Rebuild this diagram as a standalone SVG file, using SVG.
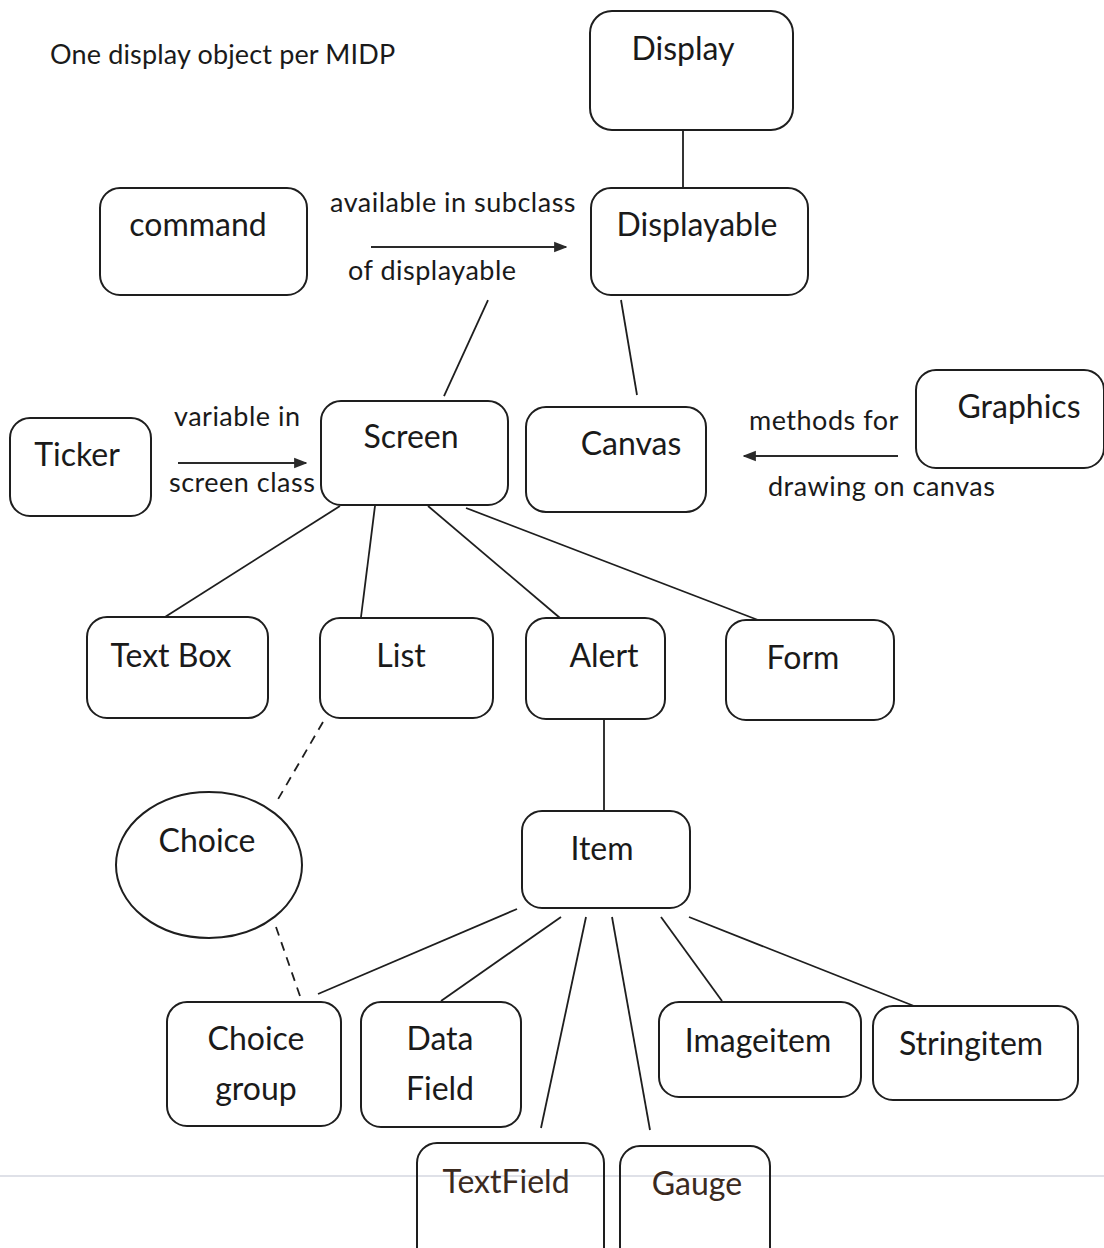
<svg xmlns="http://www.w3.org/2000/svg" width="1104" height="1248" viewBox="0 0 1104 1248">
  <style>
    .box { fill: none; stroke: #1e1e1e; stroke-width: 2; }
    .lbl { font-family: Lato, "Open Sans", "Liberation Sans", sans-serif; font-size: 32px; fill: #1a1a1a; text-anchor: middle; }
    .note { font-family: Lato, "Open Sans", "Liberation Sans", sans-serif; font-size: 27px; letter-spacing: 0.5px; fill: #1a1a1a; }
    .title { letter-spacing: 0.15px; }
    .warm { fill: #3b2a1e; }
    .edge { stroke: #1e1e1e; stroke-width: 1.8; fill: none; }
    .dash { stroke: #1e1e1e; stroke-width: 1.8; fill: none; stroke-dasharray: 9 7; }
    .arrow { stroke: #2a2a2a; stroke-width: 2.2; fill: none; marker-end: url(#head); }
  </style>
  <defs>
    <marker id="head" viewBox="0 0 10 10" refX="9" refY="5" markerWidth="6" markerHeight="6" orient="auto">
      <path d="M0,1 L10,5 L0,9 z" fill="#2a2a2a"/>
    </marker>
  </defs>

  <rect width="1104" height="1248" fill="#ffffff"/>
  <!-- faint ruled line across the page -->
  <line x1="0" y1="1176" x2="1104" y2="1176" stroke="#dfe1e8" stroke-width="2"/>

  <text class="note title" x="50" y="64">One display object per MIDP</text>

  <g id="connectors">
    <line class="edge" x1="683" y1="130" x2="683" y2="188"/>
    <line class="edge" x1="488" y1="300" x2="444" y2="396"/>
    <line class="edge" x1="621" y1="300" x2="637" y2="395"/>
    <line class="arrow" x1="371" y1="247" x2="566" y2="247"/>
    <line class="arrow" x1="178" y1="463" x2="306" y2="463"/>
    <line class="arrow" x1="898" y1="456" x2="744" y2="456"/>
    <line class="edge" x1="340" y1="506" x2="165" y2="617"/>
    <line class="edge" x1="375" y1="506" x2="361" y2="617"/>
    <line class="edge" x1="428" y1="506" x2="560" y2="618"/>
    <line class="edge" x1="466" y1="508" x2="758" y2="620"/>
    <line class="edge" x1="604" y1="719" x2="604" y2="811"/>
    <line class="dash" x1="323" y1="722" x2="277" y2="801"/>
    <line class="dash" x1="276" y1="927" x2="300" y2="996"/>
    <line class="edge" x1="517" y1="909" x2="318" y2="994"/>
    <line class="edge" x1="561" y1="917" x2="441" y2="1001"/>
    <line class="edge" x1="586" y1="917" x2="541" y2="1128"/>
    <line class="edge" x1="612" y1="917" x2="650" y2="1130"/>
    <line class="edge" x1="661" y1="917" x2="722" y2="1001"/>
    <line class="edge" x1="689" y1="917" x2="914" y2="1006"/>
  </g>

  <g id="display">
    <rect class="box" x="590" y="11" width="203" height="119" rx="22"/>
    <text class="lbl" x="683" y="60">Display</text>
  </g>
  <g id="displayable">
    <rect class="box" x="591" y="188" width="217" height="107" rx="20"/>
    <text class="lbl" x="697" y="236">Displayable</text>
  </g>
  <g id="command">
    <rect class="box" x="100" y="188" width="207" height="107" rx="20"/>
    <text class="lbl" x="198" y="236">command</text>
  </g>
  <g id="label-available">
    <text class="note" x="330" y="212">available in subclass</text>
    <text class="note" x="348" y="280">of displayable</text>
  </g>
  <g id="screen">
    <rect class="box" x="321" y="401" width="187" height="104" rx="20"/>
    <text class="lbl" x="411" y="448">Screen</text>
  </g>
  <g id="canvas">
    <rect class="box" x="526" y="407" width="180" height="105" rx="20"/>
    <text class="lbl" x="631" y="455">Canvas</text>
  </g>
  <g id="graphics">
    <rect class="box" x="916" y="370" width="188" height="98" rx="20"/>
    <text class="lbl" x="1019" y="418">Graphics</text>
  </g>
  <g id="label-methods">
    <text class="note" x="749" y="430">methods for</text>
    <text class="note" x="768" y="496">drawing on canvas</text>
  </g>
  <g id="ticker">
    <rect class="box" x="10" y="418" width="141" height="98" rx="20"/>
    <text class="lbl" x="77" y="466">Ticker</text>
  </g>
  <g id="label-variable">
    <text class="note" x="174" y="426">variable in</text>
    <text class="note" x="169" y="492">screen class</text>
  </g>
  <g id="textbox">
    <rect class="box" x="87" y="617" width="181" height="101" rx="20"/>
    <text class="lbl" x="171" y="667">Text Box</text>
  </g>
  <g id="list">
    <rect class="box" x="320" y="618" width="173" height="100" rx="20"/>
    <text class="lbl" x="401" y="667">List</text>
  </g>
  <g id="alert">
    <rect class="box" x="526" y="618" width="139" height="101" rx="20"/>
    <text class="lbl" x="604" y="667">Alert</text>
  </g>
  <g id="form">
    <rect class="box" x="726" y="620" width="168" height="100" rx="20"/>
    <text class="lbl" x="803" y="669">Form</text>
  </g>
  <g id="choice">
    <ellipse class="box" cx="209" cy="865" rx="93" ry="73"/>
    <text class="lbl" x="207" y="852">Choice</text>
  </g>
  <g id="item">
    <rect class="box" x="522" y="811" width="168" height="97" rx="20"/>
    <text class="lbl" x="602" y="860">Item</text>
  </g>
  <g id="choicegroup">
    <rect class="box" x="167" y="1002" width="174" height="124" rx="20"/>
    <text class="lbl" x="256" y="1050">Choice</text>
    <text class="lbl" x="256" y="1100">group</text>
  </g>
  <g id="datafield">
    <rect class="box" x="361" y="1002" width="160" height="125" rx="20"/>
    <text class="lbl" x="440" y="1050">Data</text>
    <text class="lbl" x="440" y="1100">Field</text>
  </g>
  <g id="imageitem">
    <rect class="box" x="659" y="1002" width="202" height="95" rx="20"/>
    <text class="lbl" x="758" y="1052">Imageitem</text>
  </g>
  <g id="stringitem">
    <rect class="box" x="873" y="1006" width="205" height="94" rx="20"/>
    <text class="lbl" x="971" y="1055">Stringitem</text>
  </g>
  <g id="textfield">
    <rect class="box" x="417" y="1143" width="187" height="125" rx="20"/>
    <text class="lbl warm" x="506" y="1193">TextField</text>
  </g>
  <g id="gauge">
    <rect class="box" x="620" y="1146" width="150" height="122" rx="20"/>
    <text class="lbl warm" x="697" y="1195">Gauge</text>
  </g>
</svg>
